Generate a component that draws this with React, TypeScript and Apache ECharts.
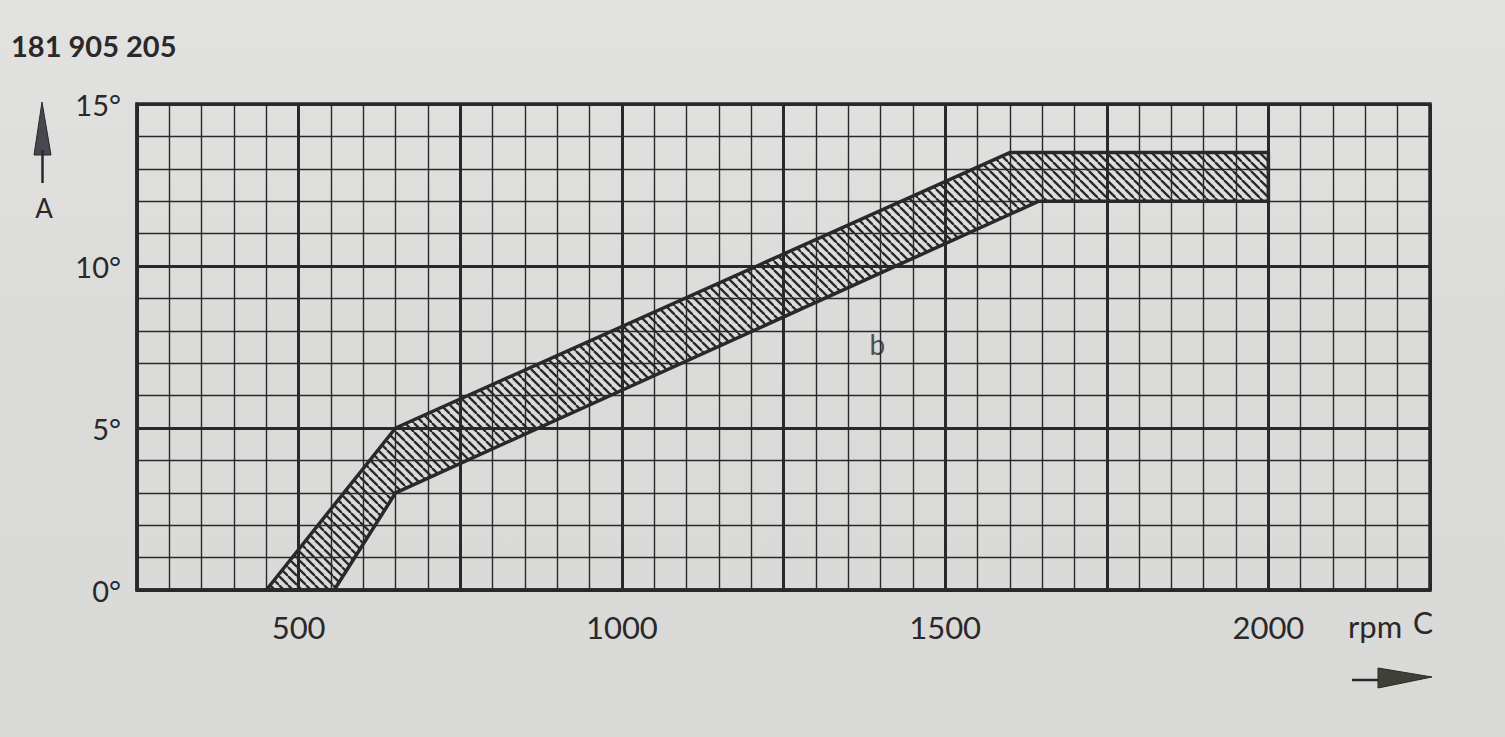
import React, { useEffect, useRef } from "react";
import * as echarts from "echarts";

// ---- data ----
const xTickLabels = [500, 1000, 1500, 2000];
const yTickLabels = [0, 5, 10, 15];
const upperRpm = [450, 650, 1600, 2000];
const upperDeg = [0, 5, 13.5, 13.5];
const lowerRpm = [555, 650, 1645, 2000];
const lowerDeg = [0, 3, 12, 12];
const partNumber = "181 905 205";
const bandLabel = "b";
const bandLabelPos = [1395, 7.6];
const yAxisName = "A";
const xAxisName = "rpm";
const xAxisLetter = "C";

const INK = "#2b2829";
const FONT = "Lato";

function makeHatch(): HTMLCanvasElement {
  const s = 9;
  const c = document.createElement("canvas");
  c.width = s;
  c.height = s;
  const ctx = c.getContext("2d")!;
  ctx.strokeStyle = INK;
  ctx.lineWidth = 2.3;
  for (const k of [-1, 0, 1]) {
    ctx.beginPath();
    ctx.moveTo(k * s, 0);
    ctx.lineTo(k * s + s, s);
    ctx.stroke();
  }
  return c;
}

export default function App() {
  const ref = useRef<HTMLDivElement>(null);

  useEffect(() => {
    if (!ref.current) return;
    const chart = echarts.init(ref.current, undefined, { renderer: "svg" });
    const hatch = makeHatch();

    const option: any = {
      animation: false,
      backgroundColor: "transparent",
      grid: {
        left: 137,
        right: 75,
        top: 104,
        bottom: 147,
        show: true,
        borderColor: INK,
        borderWidth: 3.5,
        backgroundColor: "transparent",
      },
      xAxis: {
        type: "value",
        min: 250,
        max: 2250,
        interval: 250,
        axisLine: { show: true, lineStyle: { color: INK, width: 3.5 } },
        axisTick: { show: false },
        minorTick: { show: false, splitNumber: 5 },
        splitLine: { show: true, lineStyle: { color: INK, width: 3 } },
        minorSplitLine: { show: true, lineStyle: { color: INK, width: 1.4 } },
        axisLabel: {
          margin: 21,
          color: INK,
          fontFamily: FONT,
          fontSize: 31,
          formatter: (v: number) => (xTickLabels.includes(v) ? String(v) : ""),
        },
      },
      yAxis: {
        type: "value",
        min: 0,
        max: 15,
        interval: 5,
        axisLine: { show: true, lineStyle: { color: INK, width: 3.5 } },
        axisTick: { show: false },
        minorTick: { show: false, splitNumber: 5 },
        splitLine: { show: true, lineStyle: { color: INK, width: 3 } },
        minorSplitLine: { show: true, lineStyle: { color: INK, width: 1.4 } },
        axisLabel: {
          margin: 16,
          color: INK,
          fontFamily: FONT,
          fontSize: 29,
          formatter: (v: number) => (yTickLabels.includes(v) ? v + "°" : ""),
        },
      },
      series: [
        {
          type: "custom",
          z: 5,
          data: [[upperRpm[0], upperDeg[0]]],
          renderItem: (_params: any, api: any) => {
            const pts: number[][] = [];
            for (let i = 0; i < upperRpm.length; i++) pts.push(api.coord([upperRpm[i], upperDeg[i]]));
            for (let i = lowerRpm.length - 1; i >= 0; i--) pts.push(api.coord([lowerRpm[i], lowerDeg[i]]));
            return {
              type: "polygon",
              shape: { points: pts },
              style: {
                fill: { image: hatch, repeat: "repeat" },
                stroke: INK,
                lineWidth: 3.5,
                lineJoin: "round",
              },
            };
          },
        },
        {
          type: "scatter",
          z: 6,
          symbolSize: 0,
          silent: true,
          data: [bandLabelPos],
          label: {
            show: true,
            position: "inside",
            formatter: bandLabel,
            color: INK,
            fontFamily: FONT,
            fontSize: 28,
          },
        },
      ],
      graphic: [
        {
          type: "text",
          left: 11,
          top: 31,
          style: { text: partNumber, fill: INK, font: `bold 29px ${FONT}` },
        },
        {
          type: "polygon",
          shape: { points: [[42, 102], [34, 155], [51, 155]] },
          style: { fill: "#4a4650", stroke: INK, lineWidth: 1 },
        },
        {
          type: "line",
          shape: { x1: 42.5, y1: 150, x2: 42.5, y2: 183 },
          style: { stroke: INK, lineWidth: 2.5 },
        },
        {
          type: "text",
          x: 44,
          y: 208,
          style: { text: yAxisName, fill: INK, font: `26px ${FONT}`, align: "center", verticalAlign: "middle" },
        },
        {
          type: "text",
          x: 1348,
          y: 626,
          style: { text: xAxisName, fill: INK, font: `31px ${FONT}`, align: "left", verticalAlign: "middle" },
        },
        {
          type: "text",
          x: 1423,
          y: 622,
          style: { text: xAxisLetter, fill: INK, font: `30px ${FONT}`, align: "center", verticalAlign: "middle" },
        },
        {
          type: "line",
          shape: { x1: 1352, y1: 680, x2: 1385, y2: 680 },
          style: { stroke: INK, lineWidth: 2.5 },
        },
        {
          type: "polygon",
          shape: { points: [[1378, 668], [1432, 677], [1378, 688]] },
          style: { fill: "#3f4038", stroke: INK, lineWidth: 1 },
        },
      ],
    };

    chart.setOption(option);
    return () => chart.dispose();
  }, []);

  return (
    <div
      ref={ref}
      style={{
        position: "absolute",
        left: 0,
        top: 0,
        width: 1505,
        height: 737,
        background: "linear-gradient(180deg, #e2e2e0 0%, #dbdbd9 45%, #d9d9d7 100%)",
      }}
    />
  );
}
